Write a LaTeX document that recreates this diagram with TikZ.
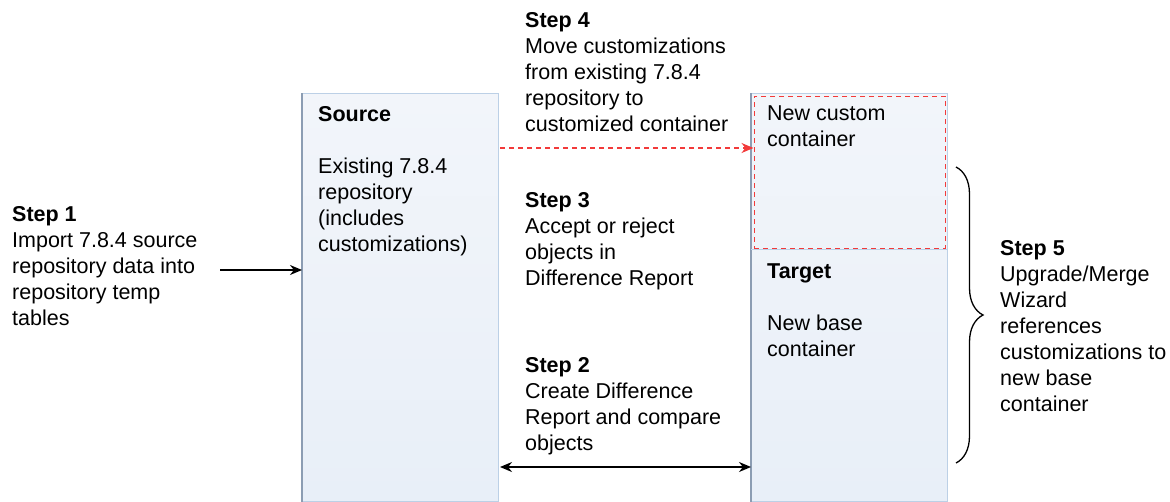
\documentclass[tikz,border=0pt]{standalone}
\usepackage{fontspec}
\setmainfont{Liberation Sans}
\usetikzlibrary{positioning,decorations.pathreplacing,arrows.meta}

\definecolor{boxfill}{HTML}{E8EFF8}
\definecolor{boxtop}{HTML}{F2F5FA}
\definecolor{boxline}{HTML}{BCD0E6}
\definecolor{boxedge}{HTML}{8C9DB3}
\definecolor{dashred}{HTML}{F23A3A}

\begin{document}
\begin{tikzpicture}[
  x=1pt, y=-1pt,
  repo/.style={rectangle, draw=boxline, line width=1pt, top color=boxtop,
               bottom color=boxfill, minimum width=196pt, anchor=north west,
               inner sep=0pt},
  label/.style={anchor=north west, align=left, inner sep=0pt,
                font=\fontsize{21.5}{26}\selectfont},
  arrow/.style={-{Stealth[length=12pt,width=10pt]}, line width=1.4pt},
  dasharrow/.style={-{Stealth[length=12pt,width=10pt]}, dash pattern=on 5pt off 4pt,
                    draw=dashred, line width=1.3pt}
]
\useasboundingbox (0,0) rectangle (1170,501);

% containers
\node[repo, minimum height=408pt] (source) at (302,93) {};
\node[repo, minimum height=408pt] (target) at (751,93) {};
\draw[boxedge, line width=1.8pt] (source.north west) -- (source.south west);
\draw[boxedge, line width=1.8pt] (target.north west) -- (target.south west);
\draw[boxline, line width=1pt] (751,249) -- (947,249);
\node[rectangle, draw=dashred, dash pattern=on 5pt off 4pt, line width=1.4pt,
      minimum width=191pt, minimum height=152pt, anchor=north west, inner sep=0pt]
      (custom) at (753.5,95.5) {};

% box texts
\node[label] (sourcetext) at (318,106) {\textbf{Source}\\[26pt]Existing 7.8.4\\repository\\(includes\\customizations)};
\node[label] (customtext) at (767,106) {New custom\\container};
\node[label] (targettext) at (767,264) {\textbf{Target}\\[26pt]New base\\container};

% steps
\node[label] (step1) at (12,206) {\textbf{Step 1}\\Import 7.8.4 source\\repository data into\\repository temp\\tables};
\node[label] (step2) at (525,357) {\textbf{Step 2}\\Create Difference\\Report and compare\\objects};
\node[label] (step3) at (525,192) {\textbf{Step 3}\\Accept or reject\\objects in\\Difference Report};
\node[label] (step4) at (525,12) {\textbf{Step 4}\\Move customizations\\from existing 7.8.4\\repository to\\customized container};
\node[label] (step5) at (1000,240) {\textbf{Step 5}\\Upgrade/Merge\\Wizard\\references\\customizations to\\new base\\container};

% connectors
\coordinate (in1) at (220,270);
\coordinate (cmp) at (500,467);
\coordinate (mov) at (500,148);
\draw[arrow] (in1) -- (in1 -| source.west);
\draw[arrow, {Stealth[length=12pt,width=10pt]}-{Stealth[length=12pt,width=10pt]}] (cmp) -- (cmp -| target.west);
\draw[dasharrow] (mov) -- (mov -| custom.west);

% brace
\coordinate (bt) at (956,167);
\coordinate (bb) at (956,463);
\draw[decorate, decoration={brace, amplitude=27pt}, line width=1.3pt] (bt) -- (bb);
\end{tikzpicture}
\end{document}
